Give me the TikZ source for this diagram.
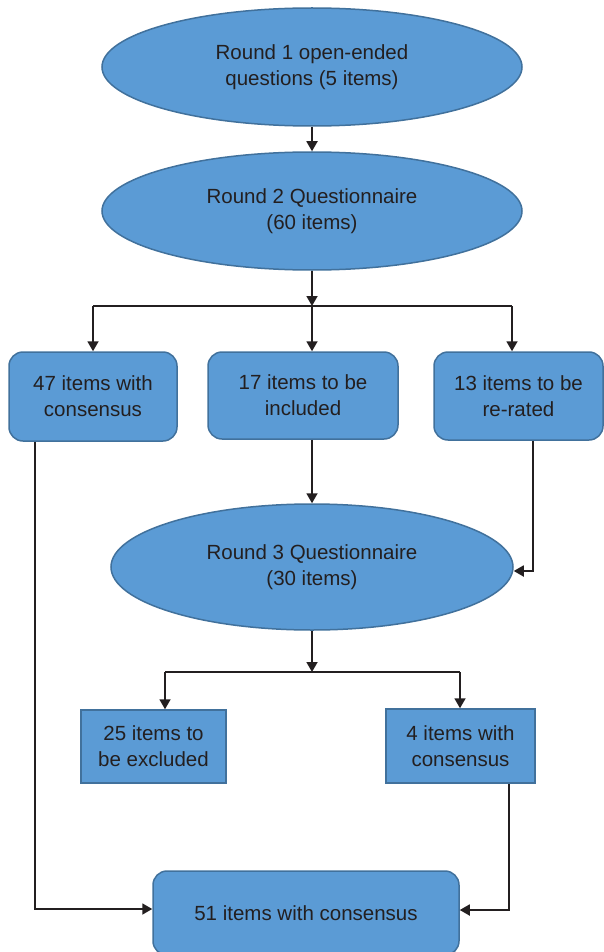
\documentclass[tikz,border=0pt]{standalone}
\usepackage{fontspec}
\setmainfont{Liberation Sans}
\usetikzlibrary{shapes.geometric,arrows.meta}
\definecolor{fillblue}{HTML}{5B9BD5}
\definecolor{edgeblue}{HTML}{41719C}
\definecolor{ink}{HTML}{231F20}
\tikzset{
  base/.style={fill=fillblue, draw=edgeblue, line width=1.5pt, text=ink, align=center, inner sep=0pt,
    font=\fontsize{20.5}{26}\selectfont},
  oval/.style={base, ellipse},
  rbox/.style={base, rectangle, rounded corners=14pt},
  sbox/.style={base, rectangle},
  arr/.style={draw=ink, line width=1.8pt, -{Triangle[length=10pt,width=11pt]}},
  ln/.style={draw=ink, line width=1.8pt},
}
\begin{document}
\begin{tikzpicture}[x=1pt,y=-1pt]
\useasboundingbox (0,0) rectangle (604,952);
\node[oval, minimum width=420pt, minimum height=118pt] (e1) at (312,67) {Round 1 open-ended\\questions (5 items)};
\node[oval, minimum width=420pt, minimum height=118pt] (e2) at (312,211) {Round 2 Questionnaire\\(60 items)};
\node[rbox, minimum width=168pt, minimum height=89pt] (b1) at (93,396.5) {47 items with\\consensus};
\node[rbox, minimum width=190pt, minimum height=87pt] (b2) at (303,395.5) {17 items to be\\included};
\node[rbox, minimum width=169pt, minimum height=88pt] (b3) at (518.5,396) {13 items to be\\re-rated};
\node[oval, minimum width=402pt, minimum height=126pt] (e3) at (312,567) {Round 3 Questionnaire\\(30 items)};
\node[sbox, minimum width=145pt, minimum height=73pt] (b4) at (153.5,746.5) {25 items to\\be excluded};
\node[sbox, minimum width=149pt, minimum height=74pt] (b5) at (460.5,746) {4 items with\\consensus};
\node[rbox, minimum width=306pt, minimum height=84pt] (b6) at (306,913) {51 items with consensus};
\coordinate (j1) at (312,306);
\coordinate (j1l) at (93,306);
\coordinate (j1r) at (512,306);
\coordinate (j2) at (312,672);
\coordinate (j2l) at (165,672);
\coordinate (j2r) at (460,672);
\draw[arr] (e1.south) -- (e2.north);
\draw[arr] (e2.south) -- (j1);
\draw[ln] (j1l) -- (j1r);
\draw[arr] (j1l) -- (j1l |- b1.north);
\draw[arr] (j1) -- (j1 |- b2.north);
\draw[arr] (j1r) -- (j1r |- b3.north);
\draw[arr] (j1 |- b2.south) -- (e3.north);
\draw[arr] ([xshift=14.5pt]b3.south) |- ([yshift=-4pt]e3.east);
\draw[arr] (e3.south) -- (j2);
\draw[ln] (j2l) -- (j2r);
\draw[arr] (j2l) -- (j2l |- b4.north);
\draw[arr] (j2r) -- (j2r |- b5.north);
\draw[arr] ([xshift=48.5pt]b5.south) |- ([yshift=3pt]b6.east);
\draw[arr] ([xshift=-58pt]b1.south) |- ([yshift=4pt]b6.west);
\end{tikzpicture}
\end{document}
